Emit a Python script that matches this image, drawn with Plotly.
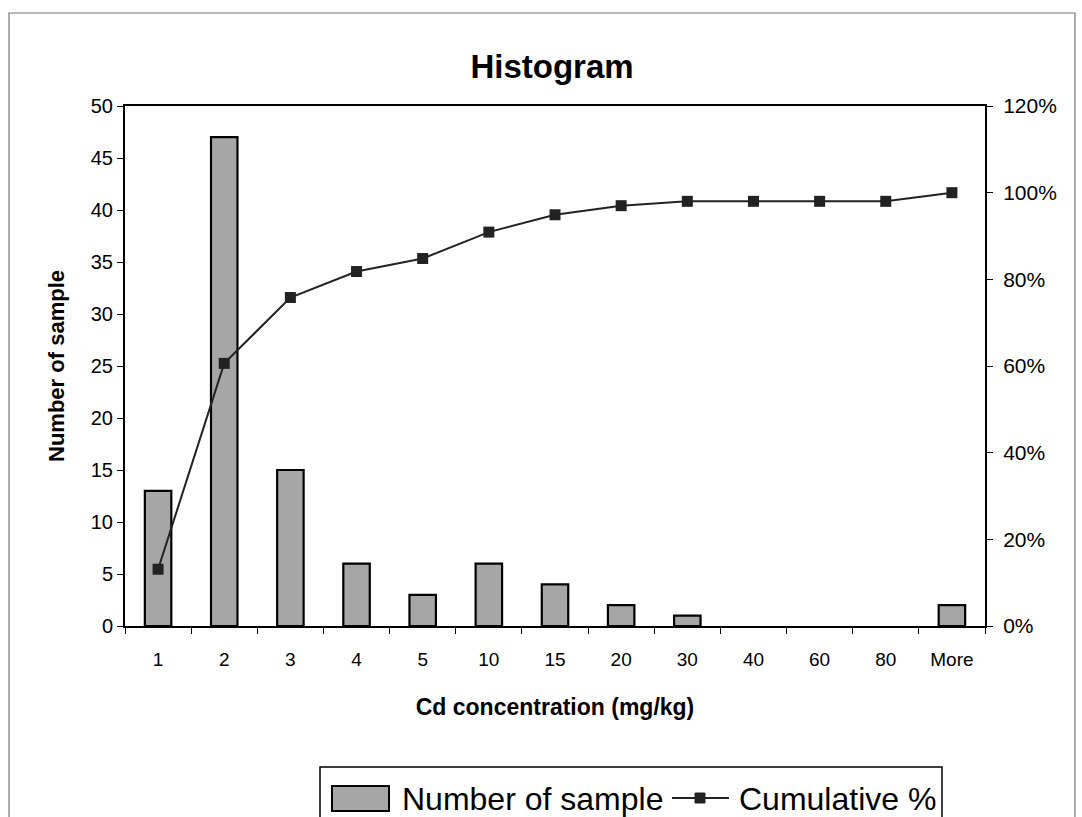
import plotly.graph_objects as go

categories = ["1", "2", "3", "4", "5", "10", "15", "20", "30", "40", "60", "80", "More"]
counts = [13, 47, 15, 6, 3, 6, 4, 2, 1, 0, 0, 0, 2]
cumulative = [0.131, 0.606, 0.758, 0.818, 0.848, 0.909, 0.949, 0.970, 0.980, 0.980, 0.980, 0.980, 1.000]
series_names = ["Number of sample", "Cumulative %"]

FONT = "Liberation Sans, Arial, sans-serif"
BAR_COLOR = "#a6a6a6"
LINE_COLOR = "#222222"

# plot area in pixels
L, R, T, B = 125, 985, 106, 626


def px(x):
    return (x - L) / (R - L)


def py(y):
    return (B - y) / (B - T)


fig = go.Figure()
fig.add_trace(go.Bar(
    x=categories, y=counts, name=series_names[0],
    marker=dict(color=BAR_COLOR,
                line=dict(color="black", width=[2.2 if c > 0 else 0 for c in counts])),
    yaxis="y", showlegend=False,
))
fig.add_trace(go.Scatter(
    x=categories, y=cumulative, name=series_names[1], mode="lines+markers",
    line=dict(color=LINE_COLOR, width=2),
    marker=dict(symbol="square", size=11, color=LINE_COLOR),
    yaxis="y2", showlegend=False,
))

shapes = [
    # outer chart border
    dict(type="rect", xref="paper", yref="paper",
         x0=px(9), x1=px(1075), y0=py(840), y1=py(13),
         line=dict(color="#777777", width=1.2), layer="below"),
    # legend box
    dict(type="rect", xref="paper", yref="paper",
         x0=px(320), x1=px(942), y0=py(840), y1=py(767),
         line=dict(color="black", width=1.5), fillcolor="white", layer="above"),
    # bar swatch
    dict(type="rect", xref="paper", yref="paper",
         x0=px(332), x1=px(389), y0=py(811), y1=py(786),
         line=dict(color="black", width=2), fillcolor=BAR_COLOR, layer="above"),
    # line swatch
    dict(type="line", xref="paper", yref="paper",
         x0=px(672), x1=px(729), y0=py(798), y1=py(798),
         line=dict(color=LINE_COLOR, width=2), layer="above"),
    dict(type="rect", xref="paper", yref="paper",
         x0=px(695), x1=px(705), y0=py(803), y1=py(793),
         line=dict(color=LINE_COLOR, width=1), fillcolor=LINE_COLOR, layer="above"),
]

annotations = [
    dict(text=series_names[0], xref="paper", yref="paper", x=px(400), y=py(799),
         xanchor="left", yanchor="middle", showarrow=False,
         font=dict(size=32, family=FONT, color="black")),
    dict(text=series_names[1], xref="paper", yref="paper", x=px(737), y=py(799),
         xanchor="left", yanchor="middle", showarrow=False,
         font=dict(size=32, family=FONT, color="black")),
]

fig.update_layout(
    width=1082, height=817,
    margin=dict(l=L, r=1082 - R, t=T, b=817 - B, autoexpand=False),
    paper_bgcolor="white", plot_bgcolor="white",
    font=dict(family=FONT, color="black", size=20),
    bargap=0.6,
    showlegend=False,
    title=dict(text="<b>Histogram</b>", x=(552 / 1082), xanchor="center",
               y=1 - 66 / 817, yanchor="middle",
               font=dict(size=33, family=FONT, color="black")),
    xaxis=dict(
        type="category", range=[-0.5, len(categories) - 0.5],
        showline=True, linecolor="black", linewidth=2,
        mirror=True, ticks="outside", ticklen=6, tickcolor="black",
        tickson="boundaries", showgrid=False, automargin=False,
        tickfont=dict(size=19), ticklabelstandoff=15,
        title=dict(text="<b>Cd concentration (mg/kg)</b>", font=dict(size=23), standoff=30),
    ),
    yaxis=dict(
        range=[0, 50], dtick=5, showline=True, linecolor="black", linewidth=2,
        ticks="outside", ticklen=6, tickcolor="black", showgrid=False,
        zeroline=False, tickfont=dict(size=20), automargin=False,
        title=dict(text="<b>Number of sample</b>", font=dict(size=22), standoff=20),
    ),
    yaxis2=dict(
        range=[0, 1.2], dtick=0.2, tickformat=".0%", overlaying="y", side="right",
        showline=True, linecolor="black", linewidth=2, ticks="outside",
        ticklen=6, tickcolor="black", showgrid=False, zeroline=False,
        tickfont=dict(size=21), automargin=False, ticklabelstandoff=6,
    ),
    shapes=shapes,
    annotations=annotations,
)

fig.write_html("out.html")
